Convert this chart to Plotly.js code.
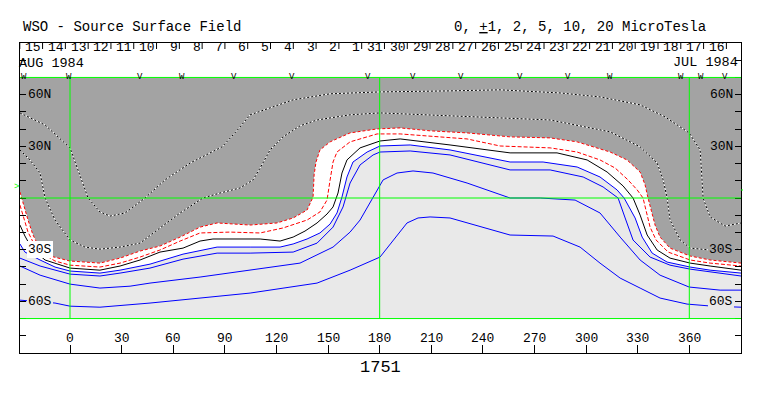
<!DOCTYPE html>
<html><head><meta charset="utf-8">
<script src="https://cdn.plot.ly/plotly-3.0.1.min.js"></script>
<style>html,body{margin:0;padding:0;background:#fff;}#chart{width:763px;height:396px;}</style>
</head><body><div id="chart"></div>
<script>
// ---------------- data (Carrington longitude / latitude, degrees) ----------------
const carrRot = '1751';
const lonTicks = [0,30,60,90,120,150,180,210,240,270,300,330,360];
const latTickVals = [-80,-70,-60,-50,-40,-30,-20,-10,0,10,20,30,40,50,60,70,80];
const latLabelVals = [60,30,-30,-60];
const latLabelText = ['60N','30N','30S','60S'];
const dayLabels = ['15','14','13','12','11','10','9','8','7','6','5','4','3','2','1','31','30','29','28','27','26','25','24','23','22','21','20','19','18','17','16'];
const dayTick0 = -29.2, dayStep = 13.25;
const markLon = [-26.7,-0.6,40.7,65.1,95.3,129.1,173.3,199.4,227.3,261.6,289.5,313.9,355.2,366.9,380.8];
const markSym = ['W','W','V','W','V','V','V','V','V','V','V','W','W','W','V'];
const gridLons = [0,180,360];
const gridLats = [-70,0,70];

// outer dotted (negative) contour
const d1Lon = [-29.1,-14.5,0,5.8,10.5,17.4,23.3,32.0,43.6,55.2,69.8,88.4,95.9,104.7,129.7,151.2,180.2,220.9,250.0,284.9,308.1,331.4,345.9,359.9,366.3,367.4,368.0,372.1,380.8,390.1];
const d1Lat = [49.4,42.4,29.1,13.4,0,-8.1,-10.5,-8.7,0,10.5,20.3,29.7,37.8,48.3,57.0,60.5,61.6,62.2,62.8,61.0,58.7,54.1,47.1,37.8,27.9,10.5,0,-11.0,-16.3,-14.5];
// inner dotted contour
const d2Lon = [-29.1,-23.3,-17.4,-14.5,-8.7,0,8.7,17.4,29.1,40.7,52.3,64.0,77.3,87.2,98.8,106.4,110.5,116.3,123.8,133.7,143.6,162.8,180.2,209.3,250.0,279.1,314.0,331.4,341.3,344.8,347.1,348.8,354.7,360.5,372.1,390.1];
const d2Lat = [27.9,22.1,14.5,0,-12.8,-24.4,-28.5,-29.7,-28.5,-26.2,-17.4,-8.7,0,2.9,5.8,10.5,17.4,27.9,35.5,41.9,45.3,48.3,49.4,48.3,46.5,45.3,38.4,29.7,20.3,10.5,0,-12.8,-24.4,-29.1,-30.2,-29.7];
// outer red dashed
const r1Lon = [-29.1,-26.7,-24.4,-21.5,-18.6,-11.6,0,17.4,29.1,40.7,52.3,64.0,75.6,85.5,104.7,120.3,129.7,137.8,141.3,141.9,143.0,145.3,151.2,162.8,178.5,191.9,209.3,230.8,255.8,279.1,294.8,314.0,323.8,331.4,334.3,336.0,337.8,340.1,343.0,348.8,360.5,372.1,390.1];
const r1Lat = [3.5,-5.2,-12.8,-21.5,-27.3,-33.7,-36.6,-37.8,-34.9,-30.8,-27.9,-22.7,-16.9,-14.5,-15.7,-14.5,-11.6,-7.0,0.6,13.4,20.9,27.9,32.6,37.8,40.1,40.7,39.0,37.8,35.5,34.9,32.6,26.7,22.1,15.1,7.6,0,-7.0,-15.7,-22.7,-29.1,-33.7,-36.0,-37.8];
// inner red dashed
const r2Lon = [-29.1,-26.7,-24.4,-20.9,-17.4,-8.7,0,17.4,29.1,40.7,52.3,64.0,75.6,93.0,110.5,123.8,137.8,145.3,149.4,151.2,152.9,155.2,162.8,178.5,191.9,230.8,250.0,279.1,294.8,308.1,316.9,324.4,329.7,333.1,334.9,337.2,340.7,347.7,360.5,372.1,390.1];
const r2Lat = [-4.1,-12.8,-19.8,-26.7,-31.4,-36.6,-39.0,-40.1,-37.8,-34.3,-30.2,-25.0,-20.3,-19.8,-20.3,-17.4,-12.8,-8.1,-1.2,10.5,20.9,26.7,32.6,37.2,37.2,34.3,30.2,29.1,26.7,22.1,17.4,10.5,4.7,0,-8.1,-16.9,-24.4,-31.4,-36.0,-37.8,-39.5];
// neutral line (0)
const kLon = [-29.1,-26.2,-23.3,-19.2,-14.5,0,17.4,29.1,40.7,52.3,65.7,75.6,83.1,100.6,110.5,122.1,129.7,136.6,143.6,149.4,152.9,155.8,158.1,161.0,168.6,180.2,191.9,220.9,255.8,283.1,300.6,312.2,321.5,327.3,331.4,335.5,341.3,348.8,360.5,372.1,390.1];
const kLat = [-15.7,-22.1,-27.3,-32.0,-36.0,-40.7,-41.9,-39.5,-36.0,-31.4,-29.1,-25.0,-23.8,-23.8,-23.8,-25.0,-22.7,-19.2,-14.5,-9.3,-5.2,2.9,14.5,22.1,29.1,33.1,34.3,30.8,26.2,26.2,22.1,15.1,7.0,0,-9.9,-21.5,-30.2,-34.9,-37.8,-39.5,-41.9];
// blue (positive) contours
const b1Lon = [-29.1,-26.2,-17.4,-8.7,0,17.4,29.1,46.5,65.7,85.5,104.7,122.1,129.7,137.8,145.3,151.2,155.2,158.1,161.0,164.5,172.7,180.2,197.7,220.9,255.8,275.0,294.8,308.1,318.0,322.1,328.5,332.6,338.4,347.1,360.5,372.1,390.1];
const b1Lat = [-26.7,-31.4,-36.0,-40.1,-42.4,-43.6,-41.9,-38.4,-32.6,-28.5,-28.5,-28.5,-26.7,-23.8,-20.3,-15.1,-8.7,0.6,12.2,20.9,26.7,30.2,30.8,27.9,20.9,20.9,18.0,12.2,4.7,0,-11.6,-22.7,-32.0,-37.2,-40.1,-41.9,-43.6];
const b2Lon = [-29.1,-17.4,0,17.4,29.1,46.5,65.7,85.5,104.7,129.7,143.6,152.9,158.7,162.8,168.6,176.2,180.2,197.7,220.9,255.8,279.1,298.3,309.9,318.6,322.7,327.3,337.2,348.8,360.5,372.1,390.1];
const b2Lat = [-34.9,-39.5,-44.2,-45.3,-43.6,-40.7,-35.5,-32.0,-32.0,-31.4,-26.2,-16.9,-5.2,8.7,19.2,25.0,26.7,27.3,25.0,16.3,16.3,12.2,6.4,0,-11.6,-24.4,-34.3,-39.0,-41.3,-43.0,-45.3];
const b3Lon = [-29.1,-17.4,0,17.4,34.9,46.5,75.6,104.7,133.7,152.9,162.8,168.6,174.4,178.5,182.0,190.1,199.4,211.0,230.8,255.8,273.3,293.6,308.1,319.8,331.4,343.0,359.9,377.9,390.1];
const b3Lat = [-39.5,-44.8,-50.0,-52.3,-51.2,-49.4,-45.9,-41.9,-37.8,-28.5,-19.8,-12.8,-2.9,4.7,10.5,14.5,15.7,14.5,8.7,0,0,-1.2,-8.7,-22.7,-36.0,-44.8,-51.7,-53.5,-53.5];
const b4Lon = [-29.1,-8.7,0,17.4,46.5,75.6,104.7,143.6,162.8,180.2,187.8,195.9,202.3,209.3,220.9,240.1,255.8,280.8,296.5,308.1,319.8,331.4,343.0,358.7,373.3,390.1];
const b4Lat = [-59.3,-61.0,-62.8,-63.4,-61.0,-58.1,-55.2,-49.4,-41.9,-34.3,-24.4,-14.5,-11.6,-11.0,-11.6,-16.9,-21.5,-22.1,-28.5,-37.8,-46.5,-52.3,-58.1,-61.6,-62.8,-63.4];

// ---------------- styles ----------------
const W = 763, H = 396, ML = 20, MR = 22, MT = 43, MB = 43;
const PW = W - ML - MR, PH = H - MT - MB;
const px = x => (x - ML) / PW;          // pixel -> paper x
const py = y => (H - MB - y) / PH;      // pixel -> paper y
const FONT = 'Liberation Mono, Courier New, monospace';
const DARK = '#a3a3a3', LIGHT = '#e9e9e9';
const lonMin = -29.07, lonMax = 390.05;

const traces = [];
function line(xs, ys, color, dash, width) {
  traces.push({x: xs, y: ys, mode: 'lines', hoverinfo: 'skip',
    line: {color: color, width: width || 1, dash: dash || 'solid'}});
}
// polarity fills
traces.push({x: r1Lon.concat([lonMax + 1, lonMin - 1]), y: r1Lat.concat([70, 70]),
  mode: 'lines', fill: 'toself', fillcolor: DARK, line: {width: 0}, hoverinfo: 'skip'});
traces.push({x: r1Lon.concat(b1Lon.slice().reverse()), y: r1Lat.concat(b1Lat.slice().reverse()),
  mode: 'lines', fill: 'toself', fillcolor: '#ffffff', line: {width: 0}, hoverinfo: 'skip'});
// contours
line(d1Lon, d1Lat, '#ffffff');
line(d1Lon, d1Lat, '#000000', '2px,2px');
line(d2Lon, d2Lat, '#ffffff');
line(d2Lon, d2Lat, '#000000', '2px,2px');
line(r1Lon, r1Lat, '#ff0000', '3px,2px');
line(r2Lon, r2Lat, '#ff0000', '4px,2px');
line(kLon, kLat, '#000000');
line(b1Lon, b1Lat, '#0000ff');
line(b2Lon, b2Lat, '#0000ff');
line(b3Lon, b3Lat, '#0000ff');
line(b4Lon, b4Lat, '#0000ff');

// ---------------- shapes ----------------
const shapes = [];
shapes.push({type: 'rect', xref: 'x', yref: 'y', x0: lonMin, x1: lonMax, y0: -70, y1: 70,
  fillcolor: LIGHT, line: {width: 0}, layer: 'below'});
gridLons.forEach(v => shapes.push({type: 'line', xref: 'x', yref: 'y', x0: v, x1: v, y0: -70, y1: 70,
  line: {color: '#00ff00', width: 1}, layer: 'above'}));
gridLats.forEach(v => shapes.push({type: 'line', xref: 'x', yref: 'y', x0: lonMin, x1: lonMax, y0: v, y1: v,
  line: {color: '#00ff00', width: 1}, layer: 'above'}));
const dayTicks = [];
for (let k = 0; k <= dayLabels.length; k++) dayTicks.push(dayTick0 + k * dayStep);
dayTicks.forEach(v => shapes.push({type: 'line', xref: 'x', yref: 'paper', x0: v, x1: v, y0: 1, y1: py(49),
  line: {color: '#000', width: 1}}));
shapes.push({type: 'line', xref: 'paper', yref: 'paper', x0: px(741), x1: px(743), y0: py(190), y1: py(190),
  line: {color: '#00ff00', width: 1}});

// ---------------- annotations ----------------
const ann = [];
function txt(o) {
  ann.push(Object.assign({showarrow: false, font: {family: FONT, size: 14, color: '#000'},
    xref: 'paper', yref: 'paper', xanchor: 'left', yanchor: 'middle', borderpad: 0, borderwidth: 0}, o));
}
txt({text: 'WSO - Source Surface Field', x: px(23), y: py(27.5)});
txt({text: '0, <u>+</u>1, 2, 5, 10, 20 MicroTesla', x: px(454), y: py(27.5)});
txt({text: 'AUG 1984', x: px(19), y: py(63.5), font: {family: FONT, size: 13.5, color: '#000'}});
txt({text: 'JUL 1984', x: px(738), y: py(62.5), xanchor: 'right', font: {family: FONT, size: 13.5, color: '#000'}});
txt({text: carrRot, x: px(380), y: py(367), xanchor: 'center', font: {family: FONT, size: 17, color: '#000'}});
txt({text: '>', x: px(16.5), y: py(187), xanchor: 'center', font: {family: FONT, size: 9, color: '#00ff00'}});
dayLabels.forEach((d, k) => txt({text: d, xref: 'x', x: dayTicks[k + 1] - 0.9, xanchor: 'right', y: py(48),
  font: {family: FONT, size: 13, color: '#000'}}));
markLon.forEach((v, k) => txt({text: markSym[k], xref: 'x', x: v, xanchor: 'center', y: py(76.5),
  font: {family: FONT, size: 9, color: '#000'}}));
lonTicks.forEach(v => txt({text: String(v), xref: 'x', x: v, xanchor: 'center', y: py(338.5),
  font: {family: FONT, size: 13, color: '#000'}}));
const leftBg = [DARK, DARK, '#ffffff', LIGHT];
const rightBg = [DARK, DARK, DARK, LIGHT];
latLabelVals.forEach((v, k) => {
  txt({text: latLabelText[k], yref: 'y', y: v, x: px(27), bgcolor: leftBg[k], borderpad: 1,
    font: {family: FONT, size: 13, color: '#000'}});
  txt({text: latLabelText[k], yref: 'y', y: v, x: px(734), xanchor: 'right', bgcolor: rightBg[k], borderpad: 1,
    font: {family: FONT, size: 13, color: '#000'}});
});

const layout = {
  width: W, height: H, margin: {l: ML, r: MR, t: MT, b: MB, pad: 0},
  paper_bgcolor: '#ffffff', plot_bgcolor: '#ffffff', showlegend: false,
  xaxis: {range: [lonMin, lonMax], showgrid: false, zeroline: false, showline: true, linecolor: '#000',
    linewidth: 1, mirror: true, ticks: 'inside', ticklen: 8, tickcolor: '#000', tickwidth: 1,
    tickmode: 'array', tickvals: lonTicks, showticklabels: false, fixedrange: true},
  yaxis: {range: [-90, 90], showgrid: false, zeroline: false, showline: true, linecolor: '#000',
    linewidth: 1, mirror: 'ticks', ticks: 'inside', ticklen: 6, tickcolor: '#000', tickwidth: 1,
    tickmode: 'array', tickvals: latTickVals, showticklabels: false, fixedrange: true},
  shapes: shapes, annotations: ann
};
Plotly.newPlot('chart', traces, layout, {displayModeBar: false, staticPlot: true});
</script></body></html>
